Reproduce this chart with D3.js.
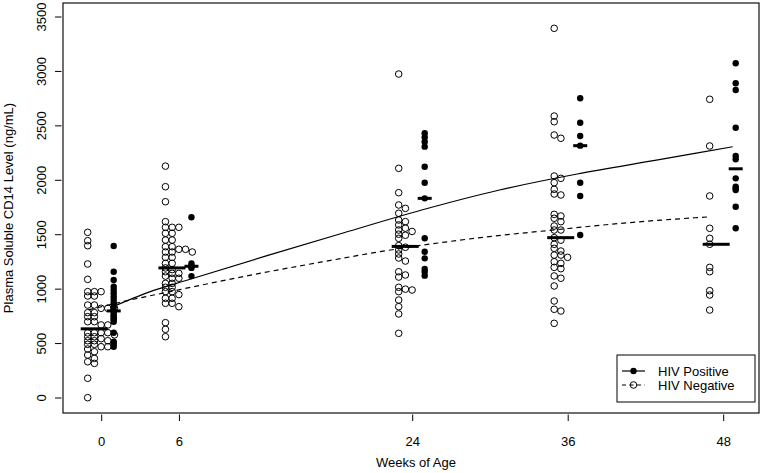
<!DOCTYPE html>
<html>
<head>
<meta charset="utf-8">
<script src="https://cdn.jsdelivr.net/npm/d3@7"></script>
<style>
  body { margin: 0; background: #fff; }
  text { font-family: "Liberation Sans", Arial, sans-serif; font-size: 13px; fill: #000; }
</style>
</head>
<body>
<svg id="chart" width="763" height="473"></svg>
<script>
// data
const weeks = [0, 6, 24, 36, 48]
const weekLabels = ['0', '6', '24', '36', '48']
const yTicks = [0, 500, 1000, 1500, 2000, 2500, 3000, 3500]

// HIV negative (open circles), one array per visit
const neg0 = [1522, 1445, 1399, 1231, 1090, 977, 977, 977, 937, 937, 854, 854, 824, 824, 824, 784, 784, 747, 747, 701, 701, 671, 671, 598, 600, 600, 600, 580, 563, 563, 545, 526, 526, 526, 493, 493, 471, 471, 450, 425, 395, 364, 333, 318, 181, 3]
const neg6 = [2130, 1941, 1803, 1620, 1568, 1568, 1568, 1513, 1513, 1451, 1451, 1390, 1390, 1366, 1366, 1341, 1341, 1341, 1292, 1292, 1237, 1237, 1195, 1180, 1160, 1145, 1145, 1120, 1100, 1100, 1053, 1053, 1017, 1017, 977, 977, 950, 916, 916, 870, 870, 839, 692, 631, 563]
const neg24 = [2976, 2110, 1886, 1773, 1742, 1697, 1635, 1620, 1590, 1560, 1543, 1530, 1505, 1495, 1467, 1400, 1385, 1360, 1323, 1286, 1258, 1160, 1130, 1111, 1017, 1000, 992, 977, 900, 839, 772, 594]
const neg36 = [3396, 2590, 2538, 2416, 2386, 2039, 2018, 1978, 1917, 1874, 1865, 1687, 1672, 1651, 1620, 1580, 1543, 1543, 1473, 1450, 1412, 1375, 1350, 1313, 1313, 1292, 1252, 1237, 1200, 1188, 1121, 1100, 1029, 891, 815, 799, 686]
const neg48 = [2744, 2315, 1856, 1559, 1467, 1412, 1200, 1160, 986, 946, 808]

// HIV positive (filled circles)
const pos0 = [1396, 1160, 1084, 1022, 992, 962, 931, 900, 870, 833, 800, 780, 762, 750, 732, 720, 701, 600, 517, 496, 471]
const pos6 = [1660, 1235, 1215, 1205, 1195, 1120]
const pos24 = [2432, 2395, 2355, 2309, 2125, 1978, 1834, 1467, 1344, 1283, 1185, 1160, 1124]
const pos36 = [2753, 2529, 2407, 2318, 1978, 1856, 1497]
const pos48 = [3075, 2891, 2829, 2483, 2223, 2193, 2018, 1941, 1925, 1911, 1757, 1559]

// fitted trend curves
const curveWeeks = [0, 3, 6, 12, 18, 24, 30, 36, 42, 48]
const posCurve = [830, 975, 1086, 1305, 1518, 1727, 1911, 2058, 2183, 2308]
const negCurve = [810, 895, 970, 1117, 1250, 1373, 1470, 1545, 1614, 1665]

const negGroups = [neg0, neg6, neg24, neg36, neg48]
const posGroups = [pos0, pos6, pos24, pos36, pos48]

;(function() {
  const box = { left: 63, right: 759, top: 3, bottom: 413 }
  const negShift = -14
  const posShift = 12
  const stackStep = 6.7

  const svg = d3.select('#chart')

  const x = d3.scaleLinear()
    .domain([0, 48])
    .range([101.7, 723.7])

  const y = d3.scaleLinear()
    .domain([0, 3500])
    .range([398, 17])

  // points, negatives stacked sideways when they sit on top of each other
  weeks.forEach((w, i) => {
    const placed = []
    negGroups[i].forEach(v => {
      const py = y(v)
      let col = 0
      while (placed.some(p => p.col === col && Math.abs(p.py - py) < 3.5)) col++
      placed.push({ col, py })
    })

    svg.append('g')
      .selectAll('circle')
      .data(placed)
      .enter()
      .append('circle')
        .attr('cx', d => x(w) + negShift + d.col * stackStep)
        .attr('cy', d => d.py)
        .attr('r', 3.3)
        .attr('fill', 'none')
        .attr('stroke', '#000')
        .attr('stroke-width', 1)

    svg.append('g')
      .selectAll('circle')
      .data(posGroups[i])
      .enter()
      .append('circle')
        .attr('cx', x(w) + posShift)
        .attr('cy', d => y(d))
        .attr('r', 3.2)
        .attr('fill', '#000')

    // medians
    const negMed = d3.median(negGroups[i])
    const posMed = d3.median(posGroups[i])
    svg.append('line')
      .attr('x1', x(w) - 21).attr('x2', x(w) + 6)
      .attr('y1', y(negMed)).attr('y2', y(negMed))
      .attr('stroke', '#000').attr('stroke-width', 3)
    svg.append('line')
      .attr('x1', x(w) + 5).attr('x2', x(w) + 19)
      .attr('y1', y(posMed)).attr('y2', y(posMed))
      .attr('stroke', '#000').attr('stroke-width', 3)
  })

  // trend lines
  const trend = shift => d3.line()
    .x((d, i) => x(curveWeeks[i]) + shift)
    .y(d => y(d))
    .curve(d3.curveMonotoneX)

  svg.append('path')
    .attr('d', trend(9)(posCurve))
    .attr('fill', 'none')
    .attr('stroke', '#000')
    .attr('stroke-width', 1.2)

  svg.append('path')
    .attr('d', trend(-13)(negCurve))
    .attr('fill', 'none')
    .attr('stroke', '#000')
    .attr('stroke-width', 1.2)
    .attr('stroke-dasharray', '5,4')

  // frame
  svg.append('rect')
    .attr('x', box.left).attr('y', box.top)
    .attr('width', box.right - box.left).attr('height', box.bottom - box.top)
    .attr('fill', 'none')
    .attr('stroke', '#222')
    .attr('stroke-width', 1.3)

  // x axis
  const xAxis = svg.append('g')
  weeks.forEach((w, i) => {
    xAxis.append('line')
      .attr('x1', x(w)).attr('x2', x(w))
      .attr('y1', box.bottom + 1.5).attr('y2', box.bottom + 8)
      .attr('stroke', '#000')
    xAxis.append('text')
      .attr('x', x(w)).attr('y', 446)
      .attr('text-anchor', 'middle')
      .text(weekLabels[i])
  })
  svg.append('text')
    .attr('x', (box.left + box.right) / 2 + 5).attr('y', 467)
    .attr('text-anchor', 'middle')
    .text('Weeks of Age')

  // y axis
  const yAxis = svg.append('g')
  yTicks.forEach(t => {
    yAxis.append('line')
      .attr('x1', box.left - 1.5).attr('x2', box.left - 8)
      .attr('y1', y(t)).attr('y2', y(t))
      .attr('stroke', '#000')
    yAxis.append('text')
      .attr('transform', `translate(46, ${y(t)}) rotate(-90)`)
      .attr('text-anchor', 'middle')
      .text(t)
  })
  svg.append('text')
    .attr('transform', `translate(13, ${(box.top + box.bottom) / 2}) rotate(-90)`)
    .attr('text-anchor', 'middle')
    .text('Plasma Soluble CD14 Level (ng/mL)')

  // legend
  const legend = svg.append('g')
  legend.append('rect')
    .attr('x', 617).attr('y', 355)
    .attr('width', 138).attr('height', 47)
    .attr('fill', '#fff')
    .attr('stroke', '#000')
  legend.append('line')
    .attr('x1', 622).attr('x2', 645).attr('y1', 371).attr('y2', 371)
    .attr('stroke', '#000').attr('stroke-width', 1.2)
  legend.append('circle')
    .attr('cx', 633.5).attr('cy', 371).attr('r', 3.2).attr('fill', '#000')
  legend.append('text')
    .attr('x', 658).attr('y', 375.5)
    .text('HIV Positive')
  legend.append('line')
    .attr('x1', 622).attr('x2', 645).attr('y1', 385).attr('y2', 385)
    .attr('stroke', '#000').attr('stroke-width', 1.2)
    .attr('stroke-dasharray', '4,3.5')
  legend.append('circle')
    .attr('cx', 633.5).attr('cy', 385).attr('r', 3.3)
    .attr('fill', 'none').attr('stroke', '#000')
  legend.append('text')
    .attr('x', 658).attr('y', 389.5)
    .text('HIV Negative')
})()
</script>
</body>
</html>
